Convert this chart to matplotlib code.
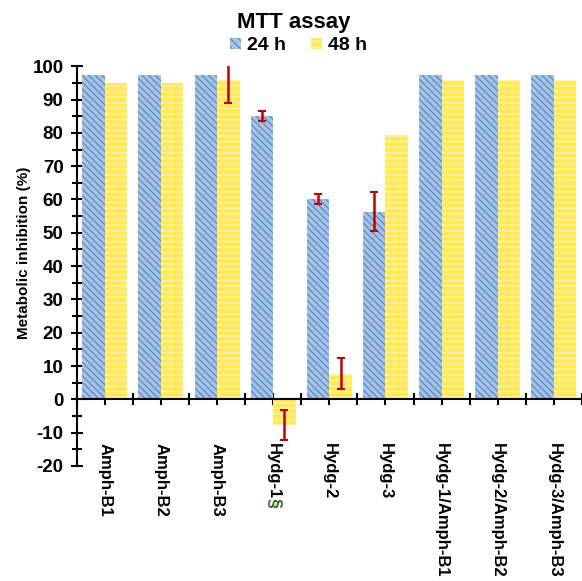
import matplotlib
matplotlib.use("Agg")
import matplotlib.pyplot as plt
import numpy as np
from matplotlib.patches import Patch
from matplotlib.ticker import MultipleLocator

plt.rcParams['font.family'] = ['Liberation Sans', 'DejaVu Sans']
plt.rcParams['font.weight'] = 'bold'
plt.rcParams['hatch.linewidth'] = 1.0
plt.rcParams['axes.unicode_minus'] = False

# data
categories = ["Amph-B1", "Amph-B2", "Amph-B3", "Hydg-1", "Hydg-2", "Hydg-3",
              "Hydg-1/Amph-B1", "Hydg-2/Amph-B2", "Hydg-3/Amph-B3"]
h24 = [97.5, 97.5, 97.5, 85.0, 60.0, 56.3, 97.5, 97.5, 97.5]
h48 = [95.0, 95.0, 96.0, -7.8, 7.7, 79.5, 96.0, 96.0, 96.0]
err24 = [0, 0, 0, 1.5, 1.5, 5.8, 0, 0, 0]
err48 = [0, 0, 7.0, 4.5, 4.6, 0, 0, 0, 0]

blue_face = '#a8c3e4'
blue_hatch = '#5d8fcc'
yel_face = '#ffe95a'
yel_hatch = '#fff3a6'
err_col = '#c00000'

fig = plt.figure(figsize=(5.82, 5.81), dpi=100)
ax = fig.add_axes([0.1318, 0.198, 0.8682, 0.688])

x = np.arange(len(categories))
w = 0.4

ax.bar(x - w / 2, h24, w, color=blue_face, edgecolor='none', zorder=2)
ax.bar(x - w / 2, h24, w, color='none', edgecolor=blue_hatch, hatch='\\\\\\\\\\', linewidth=0, zorder=2)
ax.bar(x + w / 2, h48, w, color=yel_face, edgecolor='none', zorder=2)
ax.bar(x + w / 2, h48, w, color='none', edgecolor=yel_hatch, hatch='---', linewidth=0, zorder=2)

# error bars only where there are any
for i in range(len(categories)):
    if err24[i] > 0:
        ax.errorbar(x[i] - w / 2, h24[i], yerr=err24[i], fmt='none', ecolor=err_col,
                    elinewidth=1.8, capsize=3, capthick=1.5, zorder=3)
    if err48[i] > 0:
        ax.errorbar(x[i] + w / 2, h48[i], yerr=err48[i], fmt='none', ecolor=err_col,
                    elinewidth=1.8, capsize=3, capthick=1.5, zorder=3)

ax.set_xlim(-0.5, 8.41)
ax.set_ylim(-20, 100)

ax.spines['top'].set_visible(False)
ax.spines['right'].set_visible(False)
ax.spines['bottom'].set_position(('data', 0))
ax.spines['left'].set_linewidth(1.5)
ax.spines['bottom'].set_linewidth(1.5)

ax.yaxis.set_major_locator(MultipleLocator(10))
ax.yaxis.set_minor_locator(MultipleLocator(5))
ax.tick_params(axis='y', which='major', direction='inout', length=9, width=1.5, labelsize=13.5, pad=5)
ax.tick_params(axis='y', which='minor', direction='inout', length=7, width=1.5)
for t in ax.get_yticklabels():
    t.set_fontweight('bold')

ax.set_xticks(x)
ax.set_xticklabels(categories, rotation=270, ha='center', va='top', fontsize=12, fontweight='bold')
ax.set_xticks(np.arange(-0.5, 9, 1.0), minor=True)
ax.tick_params(axis='x', which='major', direction='inout', length=9, width=1.5, pad=27)
ax.tick_params(axis='x', which='minor', direction='inout', length=9, width=1.5)

# green section sign under Hydg-1
ax.annotate('§', xy=(x[3], 0), xytext=(0, -71), textcoords='offset points',
            rotation=270, ha='center', va='top', fontsize=13, fontweight='bold',
            color='#3a6b1e', annotation_clip=False)

ax.set_ylabel('Metabolic inhibition (%)', fontsize=11, fontweight='bold')
ax.yaxis.set_label_coords(-0.09, 0.533)

fig.text(0.505, 0.962, 'MTT assay', ha='center', va='center', fontsize=16, fontweight='bold')
handles = [Patch(facecolor=blue_face, edgecolor=blue_hatch, hatch='\\\\\\\\', linewidth=0),
           Patch(facecolor=yel_face, edgecolor=yel_hatch, hatch='---', linewidth=0)]
fig.legend(handles, ['24 h', '48 h'], loc='center', bbox_to_anchor=(0.513, 0.921), ncol=2,
           frameon=False, prop={'weight': 'bold', 'size': 14}, handlelength=0.55, handleheight=0.55,
           handletextpad=0.3, columnspacing=1.3)

fig.savefig('out.png', dpi=100)
